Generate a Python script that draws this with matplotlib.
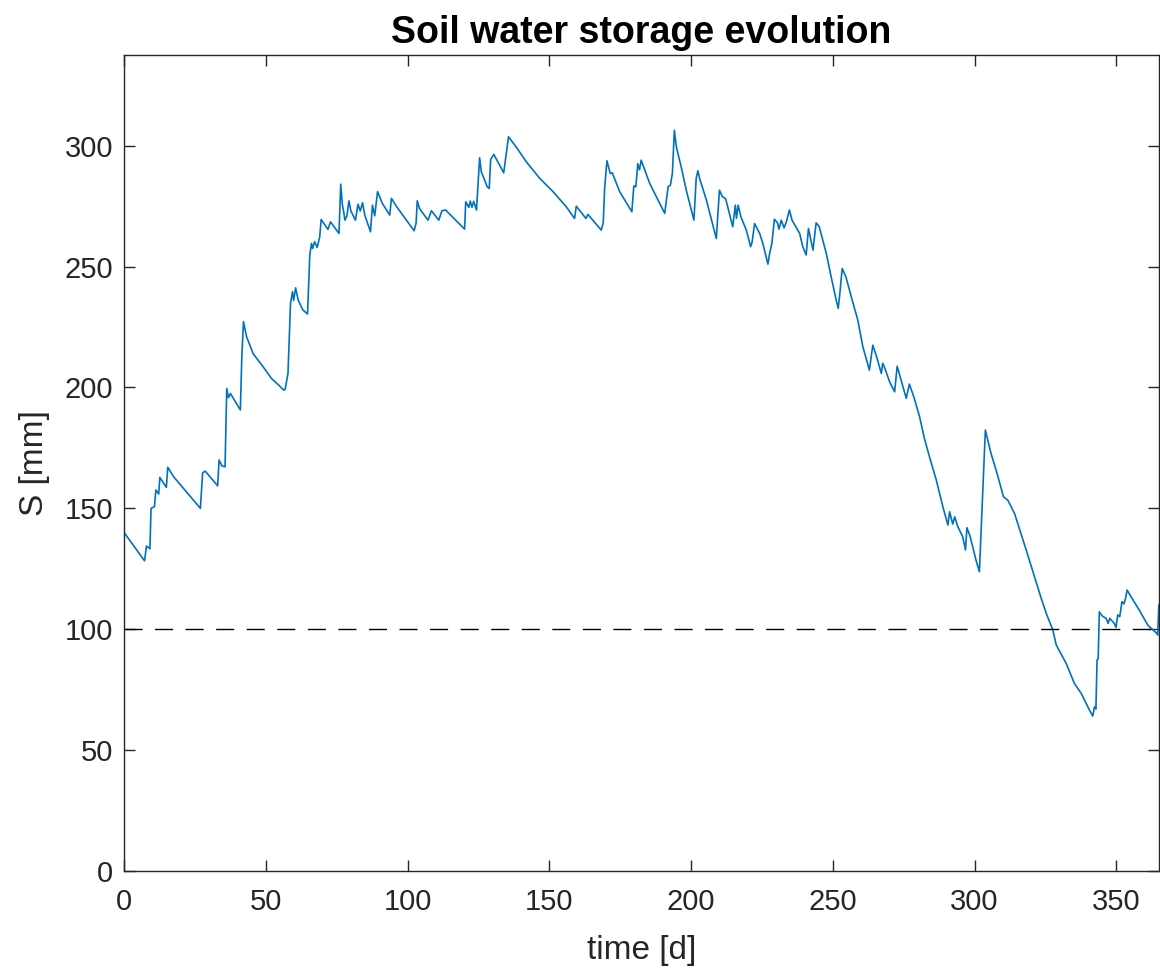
import matplotlib.pyplot as plt

# traced vertices of the storage curve
t_days = [0, 4.6, 7.2, 7.9, 9.1, 9.5, 10.7, 11.2, 12.2, 12.6, 14.9, 15.4, 17.5,
          26.9, 27.7, 28.6, 33.0, 33.5, 34.5, 35.6, 36.2, 36.8, 37.5, 41.0,
          41.5, 42.1, 43.2, 45.5, 49.0, 52.0, 54.5, 56.3, 56.8, 57.8,
          58.7, 59.4, 59.8, 60.5, 61.4, 63.1, 64.7, 65.5, 66.1, 66.5, 67.2,
          68.1, 69.0, 69.5, 71.9, 72.8, 75.8, 76.4, 77.0, 77.4, 77.9, 78.6,
          79.3, 80.0, 81.6, 82.5, 83.3, 84.1, 84.9, 86.9, 87.6, 88.4, 89.4,
          91.1, 93.7, 94.3, 96.0, 102.3, 103.0, 103.4, 104.2, 107.2, 108.4,
          111.0, 112.1, 113.4, 120.1, 120.5, 121.6, 122.1, 122.7, 123.3,
          124.3, 125.4, 126.0, 128.1, 128.8, 129.3, 130.4, 133.9, 134.8,
          135.6, 138.4, 141.9, 146.6, 151.3, 156.0, 158.9, 159.5, 161.8,
          162.9, 163.6, 168.3, 169.0, 169.5, 170.3, 171.5, 172.2, 174.8,
          179.1, 179.8, 180.5, 181.2, 181.8, 182.4, 185.4, 190.7, 191.3,
          191.9, 192.7, 193.4, 194.1, 194.8, 196.5, 198.3, 201.0, 201.8,
          202.4, 203.0, 205.4, 208.9, 210.0, 211.0, 212.2, 214.7, 215.6,
          216.0, 216.6, 217.6, 219.5, 221.0, 221.5, 222.4, 224.2, 225.3,
          227.1, 227.7, 228.5, 229.4, 230.5, 231.0, 231.8, 232.8, 233.6,
          234.7, 235.6, 238.3, 239.4, 240.6, 241.4, 243.0, 244.1, 245.2,
          247.7, 249.4, 251.2, 251.9, 252.4, 253.3, 254.6, 256.5, 258.8,
          260.6, 262.9, 264.1, 265.4, 267.1, 267.6, 268.5, 270.0, 271.8,
          272.7, 273.5, 275.9, 277.0, 278.6, 280.6, 282.3, 284.1, 286.5,
          288.8, 290.6, 291.2, 292.3, 293.0, 294.1, 295.8, 296.8, 297.3,
          298.4, 300.5, 301.7, 303.8, 305.8, 307.6, 310.2, 311.7, 314.1,
          318.2, 323.5, 325.3, 327.6, 328.8, 332.3, 335.2, 337.6, 340.5,
          341.7, 342.3, 342.8, 343.2, 343.6, 344.0, 345.0, 346.4, 347.1,
          347.7, 349.3, 349.9, 350.5, 351.2, 352.0, 352.7, 353.2, 353.8,
          355.2, 358.1, 361.1, 364.0, 364.6, 365.0]
storage = [140, 132.5, 128.3, 134.4, 133.3, 150, 150.7, 157.6, 155.9, 162.8, 158.7, 167, 163,
           150, 164.7, 165.4, 159.3, 170, 167.5, 167.2, 199.6, 195.8, 197.5, 190.7,
           212, 227.2, 221, 214, 208.6, 203.7, 201, 198.9, 199.2, 205.8,
           234.8, 239.6, 236, 241.2, 236.1, 232, 230.4, 254.8, 259.6, 257.5, 260.3,
           257.9, 262.3, 269.5, 265.4, 268.5, 263.7, 284.1, 275.4, 273, 269.2, 271,
           277.2, 273, 269.2, 275.8, 273, 276.4, 271.3, 264.4, 275.4, 271, 281,
           276.1, 271.3, 278.2, 275, 264.8, 268, 277.2, 274, 269.2, 273.1,
           269.2, 273.1, 273.4, 265.5, 276.8, 274.5, 277.1, 274.5, 277,
           273.4, 295, 289.2, 283, 282.3, 294.3, 296.4, 288.8, 296.8,
           303.7, 299.3, 293.3, 286.5, 281, 274.7, 269.9, 275, 271.6,
           269.9, 271.6, 265.1, 268, 282.3, 293.8, 288.5, 288.8, 281,
           272.7, 283.4, 283, 292.6, 290, 294, 284.4, 272, 277.5,
           283, 283.7, 288.5, 306.4, 299.5, 291.3, 281.6, 269.2, 286.5,
           289.6, 286.5, 277.5, 261.6, 281.6, 279, 278, 266.5, 275.4,
           270, 275.4, 270.5, 265, 258.2, 260, 267.8, 263.7, 259.6,
           251, 255.4, 259.6, 269.6, 268, 265.5, 269.2, 266, 268.5,
           273.4, 269.2, 263.7, 258.2, 254.8, 265.8, 256.8, 268.1, 266.5,
           255.4, 245.8, 236.1, 232.7, 238, 249.2, 245.8, 237.5, 227.9,
           216.8, 207.2, 217.5, 212.9, 205.8, 210, 207.5, 202.4, 198.2,
           208.8, 205.5, 195.5, 201.4, 196, 187.9, 178.9, 171.3, 161.7,
           150.7, 143.1, 148.6, 143.5, 146.5, 142.4, 138.3, 132.8, 142,
           138.5, 128.6, 123.8, 182.4, 172.7, 165.8, 154.8, 153.4, 147.9,
           132.8, 112.8, 106.5, 99.7, 93.5, 85.9, 77.6, 73.5, 66.6,
           64.1, 67.9, 67.0, 87.3, 87.8, 107.2, 105.5, 104.5, 102.4,
           104.5, 102.4, 100.8, 105.9, 105.2, 111.4, 110.5, 112.5, 116.2,
           113.4, 107.9, 101.7, 98.6, 97.6, 110]

threshold = 100

plt.rcParams['font.family'] = ['Liberation Sans', 'DejaVu Sans']
fig = plt.figure(figsize=(11.6, 9.76), dpi=100)
ax = fig.add_axes([0.107, 0.1076, 0.892, 0.836])

ax.plot(t_days, storage, color='#0072BD', linewidth=1.2)
ax.axhline(threshold, color='black', linewidth=1.0, dashes=(13, 9))

ax.set_xlim(0, 365)
ax.set_ylim(0, 337.5)
ax.set_xticks(range(0, 351, 50))
ax.set_yticks(range(0, 301, 50))
ax.tick_params(direction='in', length=8, width=1.0, top=True, right=True,
               labelsize=21, colors='#262626')
ax.tick_params(axis='x', pad=12)
ax.tick_params(axis='y', pad=8)
for sp in ax.spines.values():
    sp.set_color('#262626')
    sp.set_linewidth(1.0)

ax.set_xlabel('time [d]', fontsize=24, color='#262626', labelpad=14)
ax.set_ylabel('S [mm]', fontsize=24, color='#262626', labelpad=10)
ax.set_title('Soil water storage evolution', fontsize=27, fontweight='bold', pad=9)

fig.savefig('out.png', dpi=100)
